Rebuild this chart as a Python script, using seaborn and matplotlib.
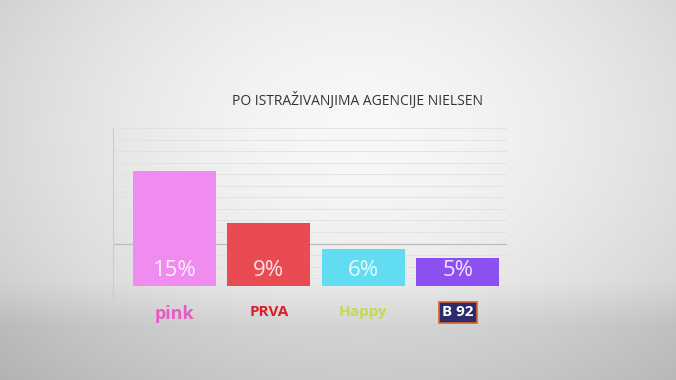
import numpy as np
import pandas as pd
import matplotlib
matplotlib.use("Agg")
import matplotlib.pyplot as plt
import seaborn as sns

categories = ["pink", "PRVA", "Happy", "B 92"]
values = [15, 9, 6, 5]
value_labels = ["15%", "9%", "6%", "5%"]
bar_colors = ["#f08cf0", "#e84b52", "#62dcf0", "#8c50f0"]
label_colors = ["#e85ac8", "#d81e2a", "#c8d850", "#ffffff"]
title = "PO ISTRAŽIVANJIMA AGENCIJE NIELSEN"

sns.set_theme(style="white")
plt.rcParams['font.family'] = ['Open Sans', 'DejaVu Sans']

W, H = 676, 380
fig = plt.figure(figsize=(W / 100, H / 100), dpi=100)

# background gradient
bg = fig.add_axes([0, 0, 1, 1])
yy, xx = np.mgrid[0:H, 0:W]
r = np.sqrt(((xx - 360) / 420.0) ** 2 + ((yy - 130) / 300.0) ** 2)
lum = 248 - 40 * np.clip(r, 0, 1.3) ** 1.6
floor = np.clip((yy - 280) / 45.0, 0, 1)
lum = lum * (1 - floor) + (lum - 16) * floor
img = np.dstack([lum, lum, lum]).clip(0, 255) / 255.0
bg.imshow(img, aspect="auto", extent=[0, W, H, 0])
bg.axis("off")

# main axes: x 113..507, y 128..286 (pixels)
ax = fig.add_axes([113 / W, 1 - 286 / H, (507 - 113) / W, (286 - 128) / H])
ax.patch.set_alpha(0)
df = pd.DataFrame({"cat": categories, "val": values})
sns.barplot(data=df, x="cat", y="val", hue="cat", palette=bar_colors,
            width=0.88, legend=False, ax=ax, saturation=1, zorder=3,
            linewidth=0, edgecolor="none")
ax.set_xlim(-0.65, 3.52)
ax.set_ylim(1.78, 20)
ax.set_yticks(20 - np.arange(0, 14) * (4 / 3))
ax.set_yticklabels([])
ax.tick_params(axis="y", length=0)
ax.grid(axis="y", color="#e0e0e0", linewidth=0.6, zorder=0)
ax.axhline(20 - 10 * 4 / 3, color="#bcbcbc", linewidth=0.9, zorder=1)
for s in ["top", "right", "bottom"]:
    ax.spines[s].set_visible(False)
ax.spines["left"].set_color("#cccccc")
ax.spines["left"].set_linewidth(0.8)
ax.spines["left"].set_bounds(1.78 - 1.6, 20)
ax.set_xlabel("")
ax.set_ylabel("")

for i, (v, lab) in enumerate(zip(values, value_labels)):
    ax.text(i, 2.3, lab, ha="center", va="bottom", color="white", alpha=0.85,
            fontsize=16, zorder=5)

ax.set_xticks(range(len(categories)))
ax.set_xticklabels(categories)
ax.tick_params(axis="x", length=0, pad=14)
for t, c in zip(ax.get_xticklabels(), label_colors):
    t.set_color(c)
    t.set_fontweight("bold")
    t.set_fontsize(11)
ax.get_xticklabels()[0].set_fontsize(13)
b92 = ax.get_xticklabels()[3]
b92.set_bbox(dict(boxstyle="square,pad=0.2", facecolor="#2c2c6c",
                  edgecolor="#e0602a", linewidth=1.2))

fig.text(357 / W, 1 - 100 / H, title, ha="center", va="center",
         fontsize=10, color="#333333")

fig.savefig("out.png", dpi=100)
